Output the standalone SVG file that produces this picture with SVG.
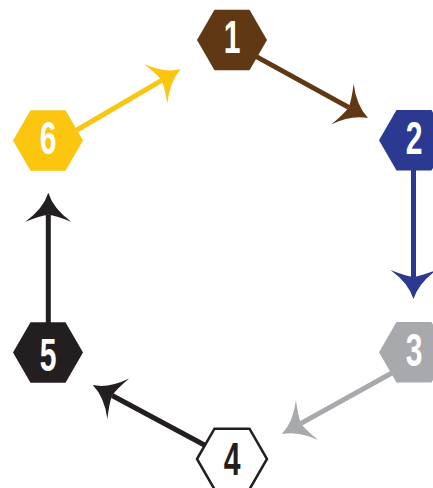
<svg xmlns="http://www.w3.org/2000/svg" width="433" height="488" viewBox="0 0 433 488">
  <style>
    .num { font-family: "Liberation Sans", Arial, sans-serif; font-weight: bold; font-size: 47px; text-anchor: middle; fill: #ffffff; }
    .conn { fill: none; stroke-width: 5; stroke-linecap: butt; }
  </style>
  <defs>
    <polygon id="hex" points="-35,0 -17.5,-30.3 17.5,-30.3 35,0 17.5,30.3 -17.5,30.3"/>
    <marker id="ah-brown" markerUnits="userSpaceOnUse" orient="auto" refX="0" refY="0" markerWidth="60" markerHeight="60" viewBox="-30 -30 60 60" overflow="visible">
      <path d="M22,0 Q6,5 -7,23 Q-1,8 0,0 Q-1,-8 -7,-23 Q6,-5 22,0 Z" fill="#603813"/>
    </marker>
    <marker id="ah-blue" markerUnits="userSpaceOnUse" orient="auto" refX="0" refY="0" markerWidth="60" markerHeight="60" viewBox="-30 -30 60 60" overflow="visible">
      <path d="M22,0 Q6,5 -7,23 Q-1,8 0,0 Q-1,-8 -7,-23 Q6,-5 22,0 Z" fill="#2b3990"/>
    </marker>
    <marker id="ah-gray" markerUnits="userSpaceOnUse" orient="auto" refX="0" refY="0" markerWidth="60" markerHeight="60" viewBox="-30 -30 60 60" overflow="visible">
      <path d="M22,0 Q6,5 -7,23 Q-1,8 0,0 Q-1,-8 -7,-23 Q6,-5 22,0 Z" fill="#a7a9ac"/>
    </marker>
    <marker id="ah-black" markerUnits="userSpaceOnUse" orient="auto" refX="0" refY="0" markerWidth="60" markerHeight="60" viewBox="-30 -30 60 60" overflow="visible">
      <path d="M22,0 Q6,5 -7,23 Q-1,8 0,0 Q-1,-8 -7,-23 Q6,-5 22,0 Z" fill="#231f20"/>
    </marker>
    <marker id="ah-yellow" markerUnits="userSpaceOnUse" orient="auto" refX="0" refY="0" markerWidth="60" markerHeight="60" viewBox="-30 -30 60 60" overflow="visible">
      <path d="M22,0 Q6,5 -7,23 Q-1,8 0,0 Q-1,-8 -7,-23 Q6,-5 22,0 Z" fill="#fcc50f"/>
    </marker>
  </defs>

  <g id="connectors">
    <line class="conn" x1="240" y1="47.6" x2="348.7" y2="107.4" stroke="#603813" marker-end="url(#ah-brown)"/>
    <line class="conn" x1="413.5" y1="150" x2="413.5" y2="277" stroke="#2b3990" marker-end="url(#ah-blue)"/>
    <line class="conn" x1="395" y1="371.3" x2="301" y2="423.4" stroke="#a7a9ac" marker-end="url(#ah-gray)"/>
    <line class="conn" x1="210" y1="448" x2="112.1" y2="395.5" stroke="#231f20" marker-end="url(#ah-black)"/>
    <line class="conn" x1="48.3" y1="340" x2="48.3" y2="214.7" stroke="#231f20" marker-end="url(#ah-black)"/>
    <line class="conn" x1="65" y1="137" x2="161.7" y2="80.4" stroke="#fcc50f" marker-end="url(#ah-yellow)"/>
  </g>

  <g id="node1">
    <use href="#hex" x="232" y="40" fill="#603813"/>
    <text class="num" transform="translate(232,52.5) scale(0.64,1)">1</text>
  </g>
  <g id="node2">
    <use href="#hex" x="414" y="140.3" fill="#2b3990"/>
    <text class="num" transform="translate(414,153.5) scale(0.64,1)">2</text>
  </g>
  <g id="node3">
    <use href="#hex" x="414" y="352.3" fill="#a7a9ac"/>
    <text class="num" transform="translate(414,366) scale(0.64,1)">3</text>
  </g>
  <g id="node4">
    <use href="#hex" x="232" y="459" fill="#ffffff" stroke="#231f20" stroke-width="2.5"/>
    <text class="num" transform="translate(232,475) scale(0.64,1)" style="fill:#231f20">4</text>
  </g>
  <g id="node5">
    <use href="#hex" x="48" y="352.5" fill="#231f20"/>
    <text class="num" transform="translate(48,370.5) scale(0.64,1)">5</text>
  </g>
  <g id="node6">
    <use href="#hex" x="48" y="140.5" fill="#fcc50f"/>
    <text class="num" transform="translate(48,153.5) scale(0.64,1)">6</text>
  </g>
</svg>
